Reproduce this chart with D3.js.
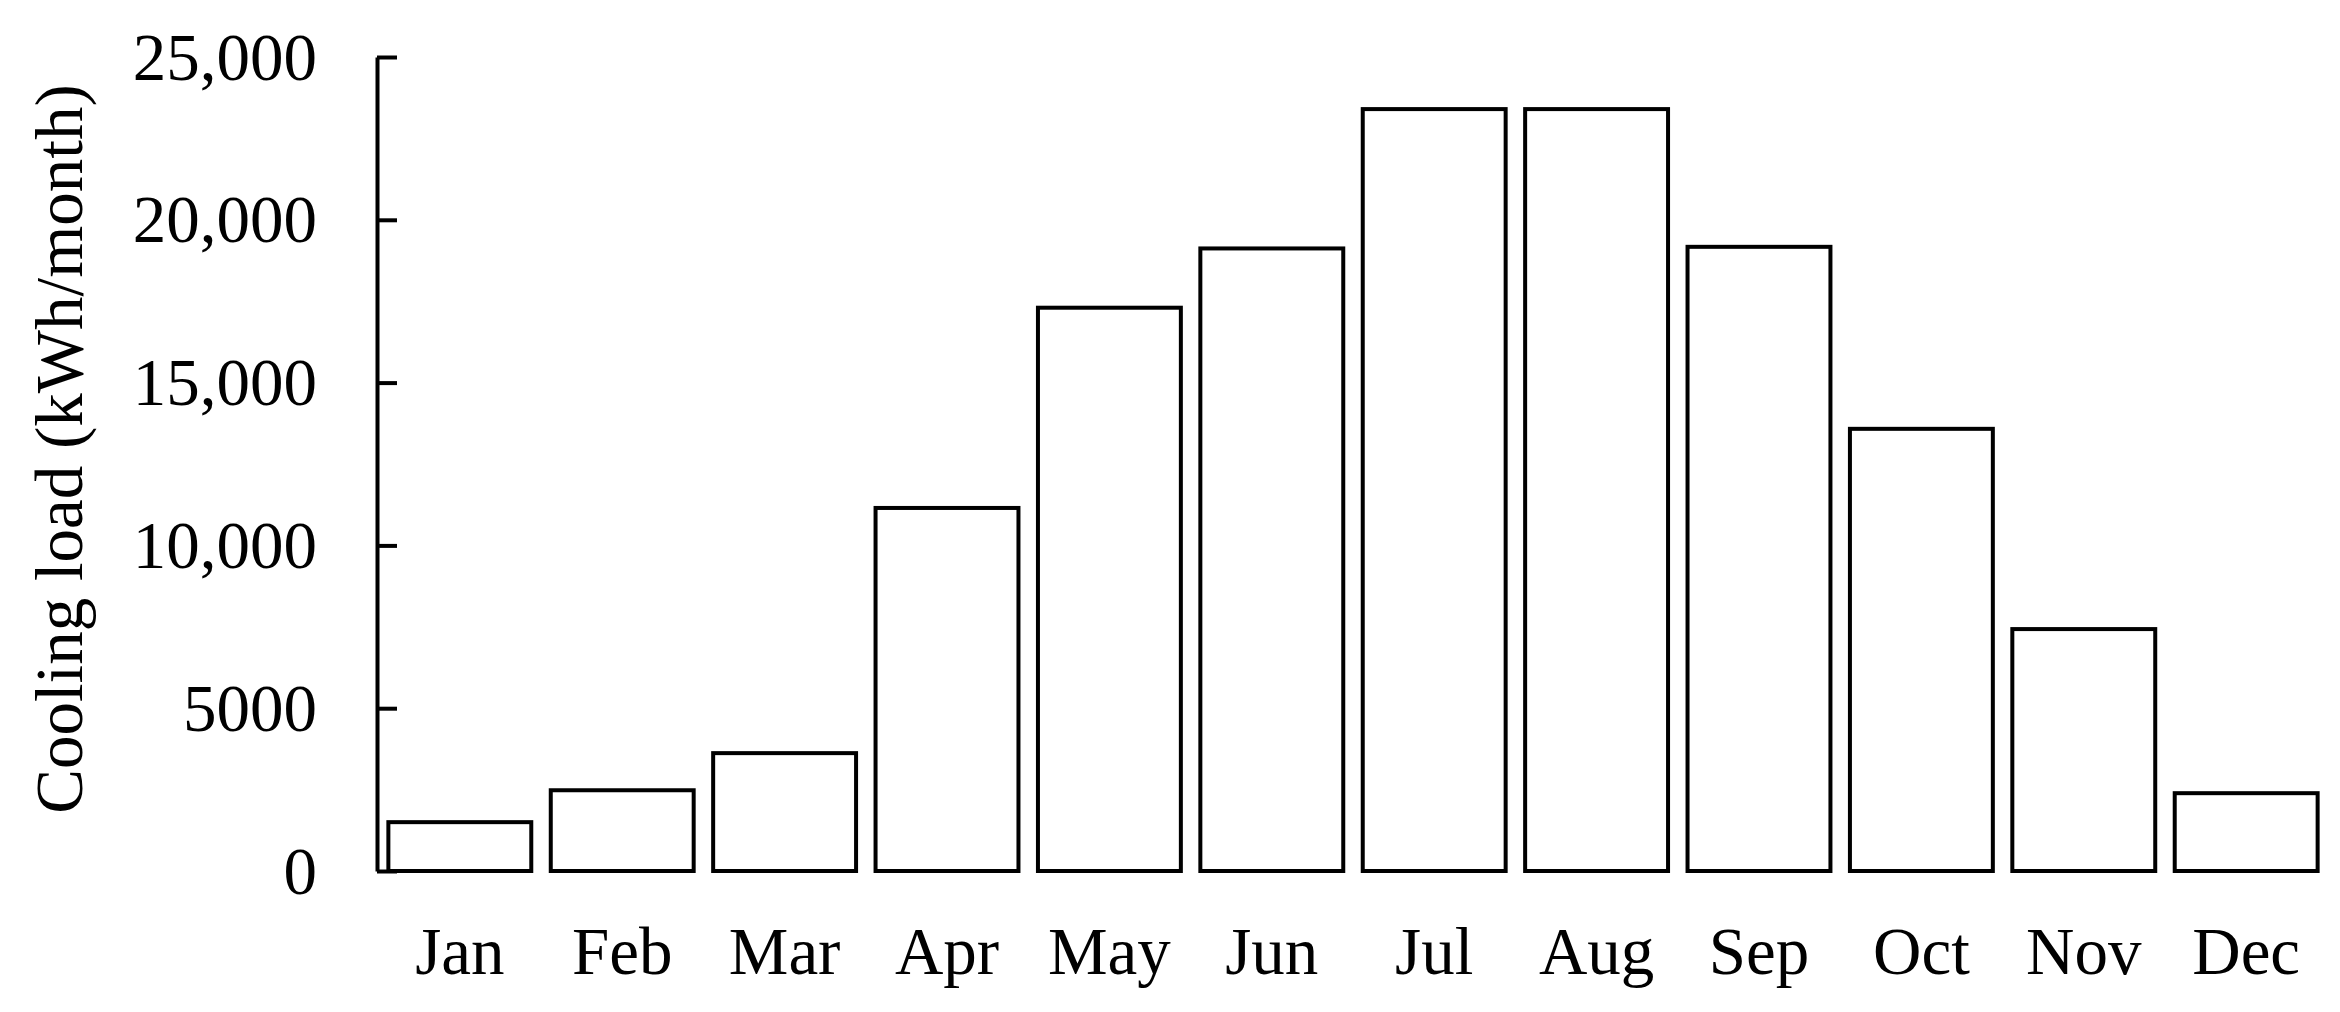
<!DOCTYPE html>
<html>
<head>
<meta charset="utf-8">
<script src="https://cdn.jsdelivr.net/npm/d3@7"></script>
<style>
  html, body { margin: 0; padding: 0; background: #fff; }
  svg { display: block; }
  text { font-family: "Liberation Serif", "Times New Roman", serif; fill: #000; }
</style>
</head>
<body>
<svg id="chart" width="2340" height="1012"></svg>
<script>
// data
const months = ['Jan', 'Feb', 'Mar', 'Apr', 'May', 'Jun', 'Jul', 'Aug', 'Sep', 'Oct', 'Nov', 'Dec']
const coolingLoad = [1500, 2480, 3620, 11150, 17300, 19120, 23400, 23400, 19170, 13580, 7430, 2390]
const yTicks = [0, 5000, 10000, 15000, 20000, 25000]
const yTickLabels = ['0', '5000', '10,000', '15,000', '20,000', '25,000']
const yTitle = 'Cooling load (kWh/month)'

const svg = d3.select('#chart')
const fontSize = 67
const lineW = 4
const axisX = 377, baseY = 871, topY = 57, rightX = 2329

const x = d3.scaleBand()
  .domain(months)
  .range([axisX, rightX])
  .paddingInner(0.12)
  .paddingOuter(0.07)

const y = d3.scaleLinear()
  .domain([0, 25000])
  .range([baseY, topY])

// bars
svg.append('g')
  .attr('id', 'barsG')
  .selectAll('rect')
  .data(months)
  .enter()
  .append('rect')
  .attr('x', d => x(d))
  .attr('y', (d, i) => y(coolingLoad[i]))
  .attr('width', x.bandwidth())
  .attr('height', (d, i) => baseY - y(coolingLoad[i]))
  .attr('fill', '#fff')
  .attr('stroke', '#000')
  .attr('stroke-width', lineW)

// y axis, ticks point inward
const yAxis = d3.axisLeft(y)
  .tickValues(yTicks)
  .tickFormat((d, i) => yTickLabels[i])
  .tickSizeInner(-20)
  .tickSizeOuter(0)
  .tickPadding(60)

const yG = svg.append('g')
  .attr('transform', 'translate(' + axisX + ',0)')
  .call(yAxis)
yG.select('.domain').attr('stroke', '#000').attr('stroke-width', lineW)
yG.selectAll('.tick line').attr('stroke', '#000').attr('stroke-width', lineW)
yG.selectAll('.tick text')
  .attr('font-family', '"Liberation Serif", "Times New Roman", serif')
  .attr('font-size', fontSize)
  .attr('fill', '#000')
  .attr('dy', '0.33em')

// month labels
const xAxis = d3.axisBottom(x).tickSize(0).tickPadding(0)
const xG = svg.append('g')
  .attr('transform', 'translate(0,' + baseY + ')')
  .call(xAxis)
xG.select('.domain').remove()
xG.selectAll('.tick text')
  .attr('font-family', '"Liberation Serif", "Times New Roman", serif')
  .attr('font-size', fontSize)
  .attr('fill', '#000')
  .attr('y', 103)
  .attr('dy', 0)

// y title
svg.append('text')
  .attr('transform', 'translate(82,449) rotate(-90)')
  .attr('text-anchor', 'middle')
  .attr('font-size', fontSize)
  .text(yTitle)
</script>
</body>
</html>
